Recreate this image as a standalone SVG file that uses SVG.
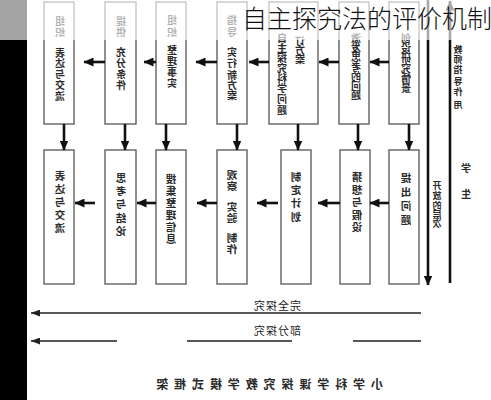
<svg xmlns="http://www.w3.org/2000/svg" width="491" height="400" viewBox="0 0 491 400">
<defs>
<style>
.box{fill:#fff;stroke:#555;stroke-width:1.3}
.c{stroke:#111;stroke-width:2.6;fill:none}
.tn{stroke:#222;stroke-width:1.3;fill:none}
.t{font-family:"Noto Sans CJK SC","Noto Sans CJK TC",sans-serif;font-size:10px;fill:#2a2a2a;text-anchor:middle;font-weight:bold}
.tb{font-family:"Noto Sans CJK SC","Noto Sans CJK TC",sans-serif;font-size:10.5px;fill:#2a2a2a;text-anchor:middle;font-weight:bold}
.lbl{font-family:"Noto Sans CJK SC","Noto Sans CJK TC",sans-serif;font-size:11px;fill:#222;text-anchor:middle}
.title{font-family:"Noto Sans CJK SC","Noto Sans CJK TC",sans-serif;font-size:25px;fill:#111;font-weight:300}
</style>
<marker id="ah" markerUnits="userSpaceOnUse" markerWidth="10" markerHeight="9" refX="9.5" refY="4.5" orient="auto"><path d="M0,0 L10,4.5 L0,9 z" fill="#111"/></marker>
<marker id="as" markerUnits="userSpaceOnUse" markerWidth="9" markerHeight="7" refX="9" refY="3.5" orient="auto"><path d="M0,0 L9,3.5 L0,7 z" fill="#222"/></marker>
</defs>
<rect x="0" y="0" width="491" height="400" fill="#fff"/>
<rect x="0" y="0" width="27" height="400" fill="#000"/>

<g id="A"><rect class="box" x="44" y="2" width="30" height="122"/>
<g transform="matrix(-1 0 0 1 491 0)"><text class="t" x="431 431 431 431 431 431 431" y="25 36 57 67 78 89 100">组织表达与交流</text></g></g>
<g id="B"><rect class="box" x="105" y="2" width="31" height="122"/>
<g transform="matrix(-1 0 0 1 491 0)"><text class="t" x="370 370 370 370 370 370" y="25 36 56 67 78 89">提供充分条件</text></g></g>
<g id="C"><rect class="box" x="156" y="2" width="30" height="122"/>
<g transform="matrix(-1 0 0 1 491 0)"><text class="t" x="319 319 319 319 319 319" y="24 36 54 65 76 87">组织整理事实</text></g></g>
<g id="D"><rect class="box" x="217" y="2" width="30" height="122"/>
<g transform="matrix(-1 0 0 1 491 0)"><text class="t" x="259 259 259 259 259 259 259" y="24 36 56 67 79 89 99">指导实行新方案</text></g></g>
<g id="E"><rect class="box" x="269" y="2" width="49" height="122"/>
<g transform="matrix(-1 0 0 1 491 0)"><text class="t" x="191 191 191" y="45 54 63">订方案</text>
<text class="t" x="209 209 209 209 209 209 209 209" y="42 52 62 72 82 92 103 114">自主探究科学问题</text></g></g>
<g id="F"><rect class="box" x="339" y="2" width="30" height="122"/>
<g transform="matrix(-1 0 0 1 491 0)"><text class="t" x="135 135 135 135 135 135 135" y="42 51.5 61 70.5 80 89.5 99">激发思考的问题</text></g></g>
<g id="G"><rect class="box" x="389" y="2" width="30" height="122"/>
<g transform="matrix(-1 0 0 1 491 0)"><text class="t" x="85 85 85 85 85 85" y="42 52 62 72 82 92">创设研究情景</text></g></g>

<g id="a"><rect class="box" x="44" y="150" width="30" height="134"/>
<g transform="matrix(-1 0 0 1 491 0)"><text class="tb" x="431 431 431 431 431" y="180 193 206 219 232">表达与交流</text></g></g>
<g id="b"><rect class="box" x="105" y="150" width="31" height="134"/>
<g transform="matrix(-1 0 0 1 491 0)"><text class="tb" x="370 370 370 370 370" y="182 195 208 222 235">思考与结论</text></g></g>
<g id="c"><rect class="box" x="156" y="150" width="30" height="134"/>
<g transform="matrix(-1 0 0 1 491 0)"><text class="tb" x="320 320 320 320 320 320" y="183 195 207 219 231 243">搜集整理信息</text></g></g>
<g id="d"><rect class="box" x="217" y="150" width="30" height="134"/>
<g transform="matrix(-1 0 0 1 491 0)"><text class="tb" x="259 259 259 259 259 259" y="179 189.5 211 221.5 242 252.5">观察实验制作</text></g></g>
<g id="e"><rect class="box" x="281" y="150" width="30" height="134"/>
<g transform="matrix(-1 0 0 1 491 0)"><text class="tb" x="195 195 195 195" y="181 194 207 221">制定计划</text></g></g>
<g id="f"><rect class="box" x="340" y="150" width="30" height="134"/>
<g transform="matrix(-1 0 0 1 491 0)"><text class="tb" x="134 134 134 134 134" y="181 193.5 206 218.5 231">猜想与假设</text></g></g>
<g id="g"><rect class="box" x="389" y="150" width="30" height="134"/>
<g transform="matrix(-1 0 0 1 491 0)"><text class="tb" x="85 85 85 85" y="182 196 210 224">提出问题</text></g></g>

<g id="connectors">
<path class="c" marker-end="url(#ah)" d="M105 62H84"/>
<path class="c" marker-end="url(#ah)" d="M156 62H144"/>
<path class="c" marker-end="url(#ah)" d="M217 62H196"/>
<path class="c" marker-end="url(#ah)" d="M269 62H249"/>
<path class="c" marker-end="url(#ah)" d="M339 62H319"/>
<path class="c" marker-end="url(#ah)" d="M389 62H370"/>
<path class="c" marker-end="url(#ah)" d="M95 203H75"/>
<path class="c" marker-end="url(#ah)" d="M156 203H137"/>
<path class="c" marker-end="url(#ah)" d="M217 203H197"/>
<path class="c" marker-end="url(#ah)" d="M278 203H257"/>
<path class="c" marker-end="url(#ah)" d="M340 203H318"/>
<path class="c" marker-end="url(#ah)" d="M389 203H370"/>
<path class="c" marker-end="url(#ah)" d="M64 124V150"/>
<path class="c" marker-end="url(#ah)" d="M125 124V150"/>
<path class="c" marker-end="url(#ah)" d="M166 124V150"/>
<path class="c" marker-end="url(#ah)" d="M237 124V150"/>
<path class="c" marker-end="url(#ah)" d="M298 124V150"/>
<path class="c" marker-end="url(#ah)" d="M358 124V150"/>
<path class="c" marker-end="url(#ah)" d="M409 124V150"/>
<path class="c" stroke-width="2.2" marker-end="url(#ah)" d="M428 0V285"/>
<path class="c" stroke-width="2.2" marker-end="url(#ah)" d="M450 283V1"/>
<path class="tn" marker-end="url(#as)" d="M421 313H31"/>
<path class="tn" marker-end="url(#as)" d="M421 341H353M292 341H187M117 341H31"/>
</g>

<g id="labels" transform="matrix(-1 0 0 1 491 0)">
<text class="t" style="font-size:9px" x="54 54 54 54 54" y="189 199 209 218 227">开放的层次</text>
<text class="t" x="25 25" y="172 198">学生</text>
<text class="t" style="font-size:9px" x="33 33 33 33 33 33" y="53 63 73 85 95 108">教师指导作用</text>
<text class="lbl" x="214" y="309.5" letter-spacing="1">完全探究</text>
<text class="lbl" x="214" y="335" letter-spacing="1">部分探究</text>
<text class="t" style="font-size:12px" x="114 131.9 149.8 167.7 185.6 203.5 221.4 239.3 257.2 275.1 293 310.9 328.8" y="389">小学科学课探究教学模式框架</text>
</g>

<rect x="0" y="0" width="491" height="40" fill="#fff" fill-opacity="0.64"/>
<text class="title" x="242" y="28">自主探究法的评价机制</text>
</svg>
